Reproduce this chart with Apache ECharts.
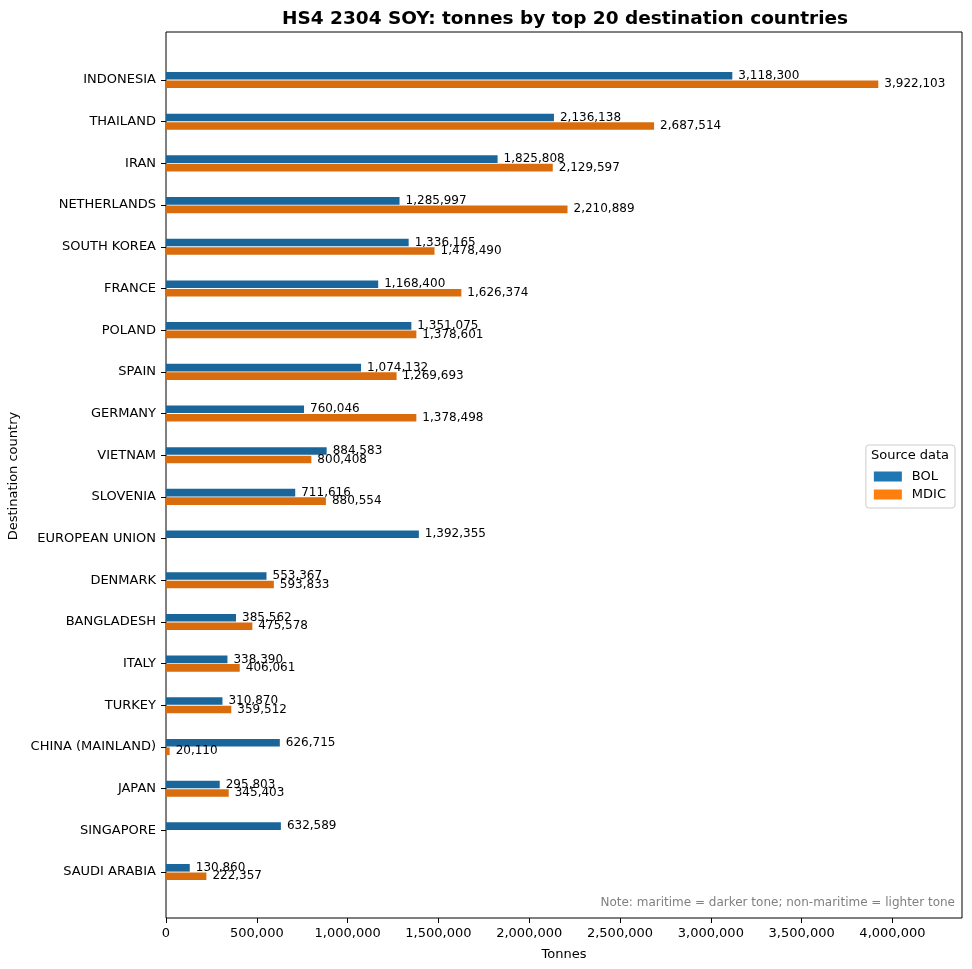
<!DOCTYPE html>
<html>
<head>
<meta charset="utf-8">
<script src="https://cdn.jsdelivr.net/npm/echarts@6/dist/echarts.min.js"></script>
<style>
html,body{margin:0;padding:0;background:#fff;}
#chart{width:972px;height:969px;}
</style>
</head>
<body>
<div id="chart"></div>
<script>
const countries = ["INDONESIA","THAILAND","IRAN","NETHERLANDS","SOUTH KOREA","FRANCE","POLAND","SPAIN","GERMANY","VIETNAM","SLOVENIA","EUROPEAN UNION","DENMARK","BANGLADESH","ITALY","TURKEY","CHINA (MAINLAND)","JAPAN","SINGAPORE","SAUDI ARABIA"];
const bolValues = [3118300,2136138,1825808,1285997,1336165,1168400,1351075,1074132,760046,884583,711616,1392355,553367,385562,338390,310870,626715,295803,632589,130860];
const mdicValues = [3922103,2687514,2129597,2210889,1478490,1626374,1378601,1269693,1378498,800408,880554,null,593833,475578,406061,359512,20110,345403,null,222357];
const xTicks = [0,500000,1000000,1500000,2000000,2500000,3000000,3500000,4000000];

const FONT = "DejaVu Sans";
const fmt = v => Number(v).toLocaleString('en-US');
const xMax = 4383000;

const chart = echarts.init(document.getElementById('chart'), null, {renderer:'canvas'});
const labelCommon = {show:true, position:'right', distance:6, fontFamily:FONT, fontSize:12, color:'#000', formatter:p=>fmt(p.value)};

chart.setOption({
  animation:false,
  backgroundColor:'#fff',
  title:{
    text:'HS4 2304 SOY: tonnes by top 20 destination countries',
    left:560, top:5, textAlign:'center',
    textStyle:{fontFamily:FONT, fontWeight:'bold', fontSize:18.5, color:'#000'}
  },
  grid:[
    {left:166, right:10, top:32, bottom:51, show:true, borderColor:'#000', borderWidth:1, backgroundColor:'transparent', outerBoundsMode:'none', containLabel:false},
    {left:166, right:10, top:59.2, bottom:76.1, outerBoundsMode:'none', containLabel:false}
  ],
  xAxis:[
    {type:'value', gridIndex:0, min:0, max:xMax, interval:500000,
     name:'Tonnes', nameLocation:'middle', nameGap:30,
     nameTextStyle:{fontFamily:FONT, fontSize:13, color:'#000'},
     axisLine:{show:false},
     axisTick:{show:true, length:5, lineStyle:{color:'#000', width:1}},
     axisLabel:{fontFamily:FONT, fontSize:13, color:'#000', margin:9, showMaxLabel:false,
       formatter:v=> xTicks.indexOf(v)>=0 ? fmt(v) : ''},
     splitLine:{show:false}},
    {type:'value', gridIndex:1, min:0, max:xMax, show:false, splitLine:{show:false}}
  ],
  yAxis:[
    {type:'value', gridIndex:0, show:false, min:0, max:1, splitLine:{show:false}},
    {type:'category', gridIndex:1, data:countries, inverse:true,
     name:'Destination country', nameLocation:'middle', nameGap:139,
     nameTextStyle:{fontFamily:FONT, fontSize:13, color:'#000'},
     axisLine:{show:false},
     axisTick:{show:true, alignWithLabel:true, length:5, lineStyle:{color:'#000'}},
     axisLabel:{fontFamily:FONT, fontSize:13, color:'#000', margin:10, interval:0},
     splitLine:{show:false}}
  ],
  legend:{
    orient:'vertical', right:17, top:445,
    padding:[25,9,7,8], itemGap:5, itemWidth:28, itemHeight:10,
    borderColor:'#cccccc', borderWidth:1, borderRadius:3, backgroundColor:'rgba(255,255,255,0.8)',
    textStyle:{fontFamily:FONT, fontSize:13, color:'#000', padding:[0,0,0,5]},
    data:[
      {name:'BOL', icon:'rect', itemStyle:{color:'#1f77b4'}},
      {name:'MDIC', icon:'rect', itemStyle:{color:'#ff7f0e'}}
    ]
  },
  graphic:[
    {type:'text', left:871, top:449, z:100,
     style:{text:'Source data', font:'13px "DejaVu Sans"', fill:'#000'}},
    {type:'text', right:17, top:897, z:100,
     style:{text:'Note: maritime = darker tone; non-maritime = lighter tone', font:'12px "DejaVu Sans"', fill:'#808080'}}
  ],
  series:[
    {name:'BOL', type:'bar', xAxisIndex:1, yAxisIndex:1, data:bolValues,
     barWidth:7.6, barGap:'12%', itemStyle:{color:'#1a6599'}, label:labelCommon},
    {name:'MDIC', type:'bar', xAxisIndex:1, yAxisIndex:1, data:mdicValues,
     barWidth:7.6, barGap:'12%', itemStyle:{color:'#d96c0c'}, label:labelCommon}
  ]
});
</script>
</body>
</html>
